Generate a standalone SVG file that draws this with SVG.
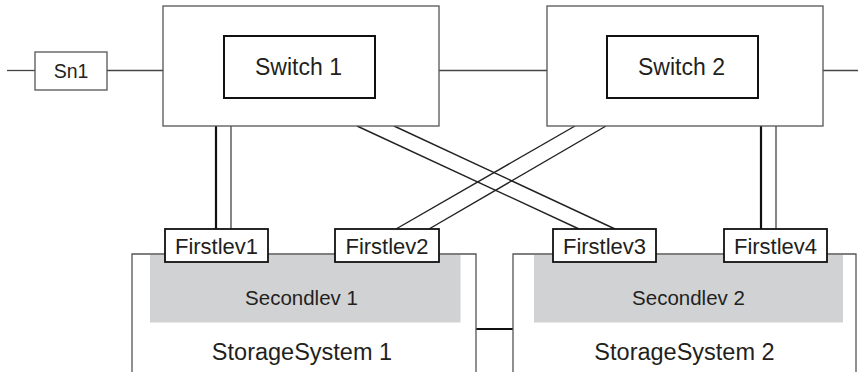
<svg xmlns="http://www.w3.org/2000/svg" width="858" height="372" viewBox="0 0 858 372">
<style>
.outer{fill:#fff;stroke:#555;stroke-width:1.3}
.inner{fill:#fff;stroke:#111;stroke-width:2}
.port{fill:#fff;stroke:#111;stroke-width:1.8}
.gray{fill:#d1d2d4;stroke:none}
.ln{stroke:#444;stroke-width:1.3;fill:none}
.thk{stroke:#111;stroke-width:2.2;fill:none}
.dg{stroke:#222;stroke-width:1.4;fill:none}
text{font-family:"Liberation Sans",Arial,sans-serif;fill:#231f20;text-anchor:middle;dominant-baseline:central}
</style>
<rect width="858" height="372" fill="#fff"/>
<g id="connectors">
<line class="ln" x1="7" y1="70.5" x2="35" y2="70.5"/>
<line class="ln" x1="107" y1="70.5" x2="163" y2="70.5"/>
<line class="ln" x1="439" y1="70.5" x2="547" y2="70.5"/>
<line class="ln" x1="823" y1="70.5" x2="858" y2="70.5"/>
<line class="thk" x1="216" y1="126" x2="216" y2="229"/>
<line class="ln" x1="231" y1="126" x2="231" y2="229"/>
<line class="thk" x1="761" y1="126" x2="761" y2="229"/>
<line class="ln" x1="776" y1="126" x2="776" y2="229"/>
<line class="dg" x1="357" y1="126" x2="579" y2="229"/>
<line class="dg" x1="394" y1="126" x2="615" y2="229"/>
<line class="dg" x1="575" y1="126" x2="396" y2="229"/>
<line class="dg" x1="606" y1="126" x2="429" y2="229"/>
<line class="thk" x1="476" y1="329" x2="513" y2="329"/>
</g>
<g id="sn1">
<rect class="outer" x="35" y="52" width="72" height="38"/>
<text x="71" y="71" font-size="19.5">Sn1</text>
</g>
<g id="switch1">
<rect class="outer" x="163" y="6" width="276" height="120"/>
<rect class="inner" x="224" y="36" width="151" height="62"/>
<text x="298.5" y="67" font-size="23">Switch 1</text>
</g>
<g id="switch2">
<rect class="outer" x="547" y="6" width="276" height="120"/>
<rect class="inner" x="607" y="36" width="151" height="62"/>
<text x="681.5" y="67" font-size="23">Switch 2</text>
</g>
<g id="storage1">
<path class="outer" d="M132,373 V254 H476 V373"/>
<rect class="gray" x="150" y="255" width="310.5" height="67.5"/>
<text x="301.5" y="297" font-size="20.5">Secondlev 1</text>
<text x="302" y="352" font-size="23.5">StorageSystem 1</text>
</g>
<g id="storage2">
<path class="outer" d="M513,373 V254 H856 V373"/>
<rect class="gray" x="534" y="255" width="309" height="67.5"/>
<text x="688.5" y="297" font-size="20.5">Secondlev 2</text>
<text x="684.5" y="352" font-size="23.5">StorageSystem 2</text>
</g>
<g id="firstlev1">
<rect class="port" x="165" y="229" width="103" height="33"/>
<text x="216.5" y="246" font-size="22">Firstlev1</text>
</g>
<g id="firstlev2">
<rect class="port" x="335" y="229" width="104" height="33"/>
<text x="387" y="246" font-size="22">Firstlev2</text>
</g>
<g id="firstlev3">
<rect class="port" x="553" y="229" width="103" height="33"/>
<text x="604.5" y="246" font-size="22">Firstlev3</text>
</g>
<g id="firstlev4">
<rect class="port" x="724" y="229" width="103" height="33"/>
<text x="775.5" y="246" font-size="22">Firstlev4</text>
</g>
</svg>
